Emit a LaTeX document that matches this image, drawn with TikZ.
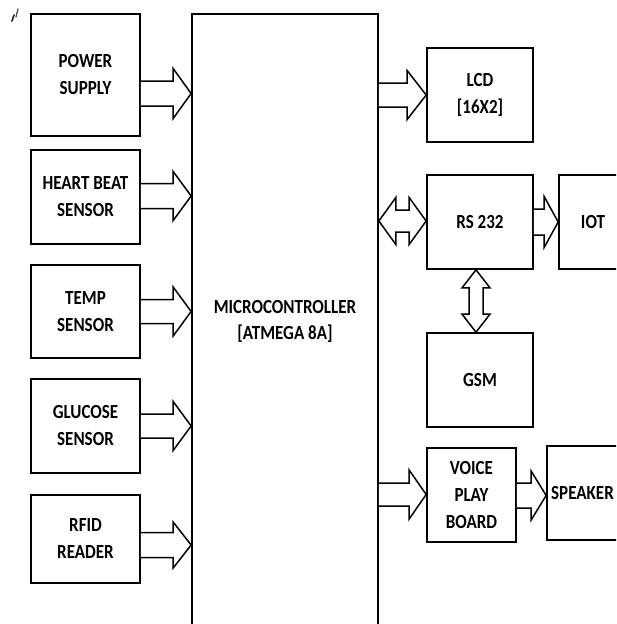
\documentclass[tikz,border=0pt]{standalone}
\usepackage{fontspec}
\newfontfamily\lbl{Carlito}[FakeStretch=0.85]
\usetikzlibrary{calc}
\tikzset{
  blockbox/.style={draw=black, line width=1.7pt, fill=white, inner sep=0pt, align=center,
    font=\lbl\bfseries\fontsize{20}{27}\selectfont, text=black},
  blk/.style={draw=black, line width=1.5pt, fill=white, line join=miter},
}
% right-pointing block arrow: #1 from, #2 to, #3 y, #4 shaft half, #5 head half, #6 head length
\newcommand\rarrow[6]{\draw[blk] let \p1=(#1 |- 0,#3), \p2=(#2 |- 0,#3) in
  ({\x1},{\y1+#4pt}) -- ({\x2-#6pt},{\y1+#4pt}) -- ({\x2-#6pt},{\y1+#5pt}) -- ({\x2},{\y1})
  -- ({\x2-#6pt},{\y1-#5pt}) -- ({\x2-#6pt},{\y1-#4pt}) -- ({\x1},{\y1-#4pt});}
% horizontal double block arrow
\newcommand\darrow[6]{\draw[blk] let \p1=(#1 |- 0,#3), \p2=(#2 |- 0,#3) in
  ({\x1},{\y1}) -- ({\x1+#6pt},{\y1+#5pt}) -- ({\x1+#6pt},{\y1+#4pt}) -- ({\x2-#6pt},{\y1+#4pt})
  -- ({\x2-#6pt},{\y1+#5pt}) -- ({\x2},{\y1}) -- ({\x2-#6pt},{\y1-#5pt}) -- ({\x2-#6pt},{\y1-#4pt})
  -- ({\x1+#6pt},{\y1-#4pt}) -- ({\x1+#6pt},{\y1-#5pt}) -- cycle;}
\begin{document}
\begin{tikzpicture}[x=1pt,y=-1pt]
\useasboundingbox (0,0) rectangle (616,624);
\clip (0,0) rectangle (616,624);
\fill[white] (0,0) rectangle (616,624);

% left column
\node[blockbox, minimum width=109pt, minimum height=122pt] (ps)  at (85.5,75)  {POWER\\SUPPLY};
\node[blockbox, minimum width=109pt, minimum height=94pt]  (hb)  at (85.5,197) {HEART BEAT\\SENSOR};
\node[blockbox, minimum width=109pt, minimum height=93pt]  (tmp) at (85.5,311.5) {TEMP\\SENSOR};
\node[blockbox, minimum width=109pt, minimum height=94pt]  (glu) at (85.5,426) {GLUCOSE\\SENSOR};
\node[blockbox, minimum width=109pt, minimum height=88pt]  (rf)  at (85.5,539) {RFID\\READER};

% microcontroller (runs past the bottom edge)
\node[blockbox, minimum width=186pt, minimum height=640pt] (mcu) at (285,334) {};
\node[font=\lbl\bfseries\fontsize{20}{26}\selectfont, align=center, text=black] (mcut) at (285,321)
  {MICROCONTROLLER\\{}[ATMEGA 8A]};

% right column
\node[blockbox, minimum width=106pt, minimum height=94pt] (lcd) at (480,95)  {LCD\\{}[16X2]};
\node[blockbox, minimum width=106pt, minimum height=94pt] (rs)  at (480,222) {RS 232};
\node[blockbox, minimum width=68pt,  minimum height=94pt] (iot) at (593,222) {IOT};
\node[blockbox, minimum width=106pt, minimum height=94pt] (gsm) at (480,380) {GSM};
\node[blockbox, minimum width=89pt,  minimum height=94pt] (vpb) at (471.5,495) {VOICE\\PLAY\\BOARD};
\node[blockbox, minimum width=80pt,  minimum height=94pt] (spk) at (587,493) {SPEAKER\hspace*{9pt}};

% input arrows
\rarrow{ps.east}{mcu.west}{93.5}{12.5}{25}{18}
\rarrow{hb.east}{mcu.west}{196}{12.5}{24.5}{18}
\rarrow{tmp.east}{mcu.west}{311.5}{12}{24.5}{18}
\rarrow{glu.east}{mcu.west}{426}{12}{24.5}{18}
\rarrow{rf.east}{mcu.west}{545}{12.5}{23}{18}

% output arrows
\rarrow{mcu.east}{lcd.west}{95}{12}{24.5}{19}
\darrow{mcu.east}{rs.west}{221}{11}{23.5}{17}
\rarrow{rs.east}{iot.west}{222}{13}{25.5}{14}
\rarrow{mcu.east}{vpb.west}{494.5}{11.5}{24.5}{17}
\rarrow{vpb.east}{spk.west}{495.5}{12.5}{24.5}{15}

% vertical double arrow RS232 <-> GSM
\draw[blk] let \p1=(rs.south -| 476,0), \p2=(gsm.north -| 476,0) in
  ({\x1},{\y1}) -- ({\x1+14pt},{\y1-18pt}) -- ({\x1+7pt},{\y1-18pt}) -- ({\x1+7pt},{\y2+18pt})
  -- ({\x1+14pt},{\y2+18pt}) -- ({\x1},{\y2}) -- ({\x1-14pt},{\y2+18pt}) -- ({\x1-7pt},{\y2+18pt})
  -- ({\x1-7pt},{\y1-18pt}) -- ({\x1-14pt},{\y1-18pt}) -- cycle;

% stray marks at top left
\draw[line width=1.6pt, line cap=round, black!85] (12,21) -- (14,15);
\draw[line width=1.3pt, line cap=round, black!70] (16,17) -- (18,9);
\end{tikzpicture}
\end{document}
